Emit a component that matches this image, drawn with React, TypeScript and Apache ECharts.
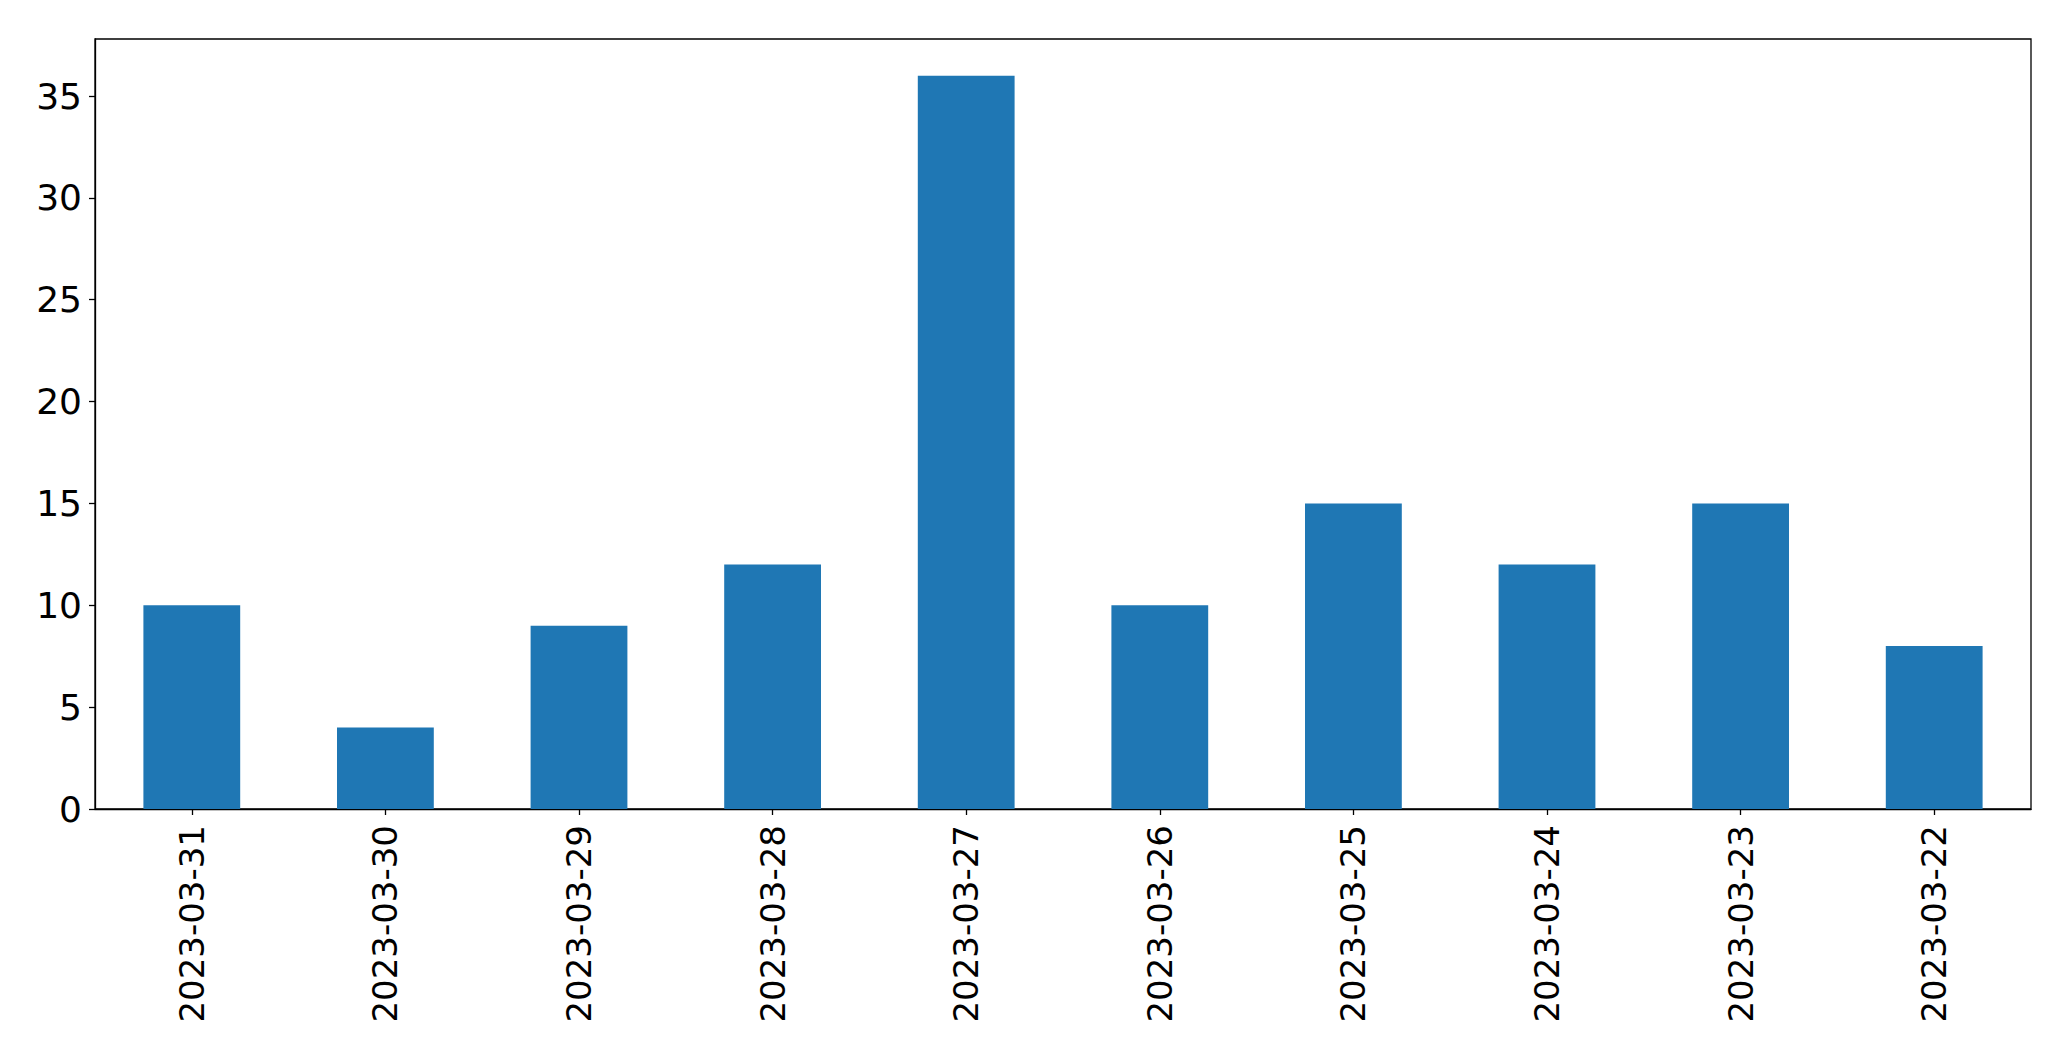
import React, { useEffect, useRef } from "react";
import * as echarts from "echarts";

const categories = [
  "2023-03-31",
  "2023-03-30",
  "2023-03-29",
  "2023-03-28",
  "2023-03-27",
  "2023-03-26",
  "2023-03-25",
  "2023-03-24",
  "2023-03-23",
  "2023-03-22",
];
const values = [10, 4, 9, 12, 36, 10, 15, 12, 15, 8];
const yTicks = [0, 5, 10, 15, 20, 25, 30, 35];
const yMax = 37.8;

export default function App() {
  const ref = useRef<HTMLDivElement>(null);
  useEffect(() => {
    if (!ref.current) return;
    const chart = echarts.init(ref.current, null, { renderer: "svg" });
    const font = "DejaVu Sans";
    chart.setOption({
      animation: false,
      backgroundColor: "#ffffff",
      grid: {
        left: 95,
        top: 39,
        right: 40,
        bottom: 252,
        show: true,
        borderColor: "#000",
        borderWidth: 1.3,
        containLabel: false,
      },
      xAxis: {
        type: "category",
        data: categories,
        boundaryGap: true,
        axisLine: { show: true, lineStyle: { color: "#000", width: 1.3 } },
        axisTick: {
          show: true,
          alignWithLabel: true,
          length: 6,
          lineStyle: { color: "#000", width: 1.3 },
        },
        axisLabel: {
          rotate: 90,
          margin: 16,
          color: "#000",
          fontFamily: font,
          fontSize: 34,
          interval: 0,
        },
        splitLine: { show: false },
      },
      yAxis: {
        type: "value",
        min: 0,
        max: yMax,
        interval: 5,
        axisLine: { show: true, lineStyle: { color: "#000", width: 1.3 } },
        axisTick: {
          show: true,
          length: 6,
          lineStyle: { color: "#000", width: 1.3 },
          customValues: yTicks,
        },
        axisLabel: {
          color: "#000",
          fontFamily: font,
          fontSize: 36,
          margin: 13,
          customValues: yTicks,
        },
        splitLine: { show: false },
      },
      series: [
        {
          type: "bar",
          data: values,
          barWidth: "50%",
          itemStyle: { color: "#1f77b4" },
        },
      ],
    });
    return () => chart.dispose();
  }, []);
  return (
    <div
      ref={ref}
      style={{ position: "fixed", left: 0, top: 0, width: 2071, height: 1061 }}
    />
  );
}
